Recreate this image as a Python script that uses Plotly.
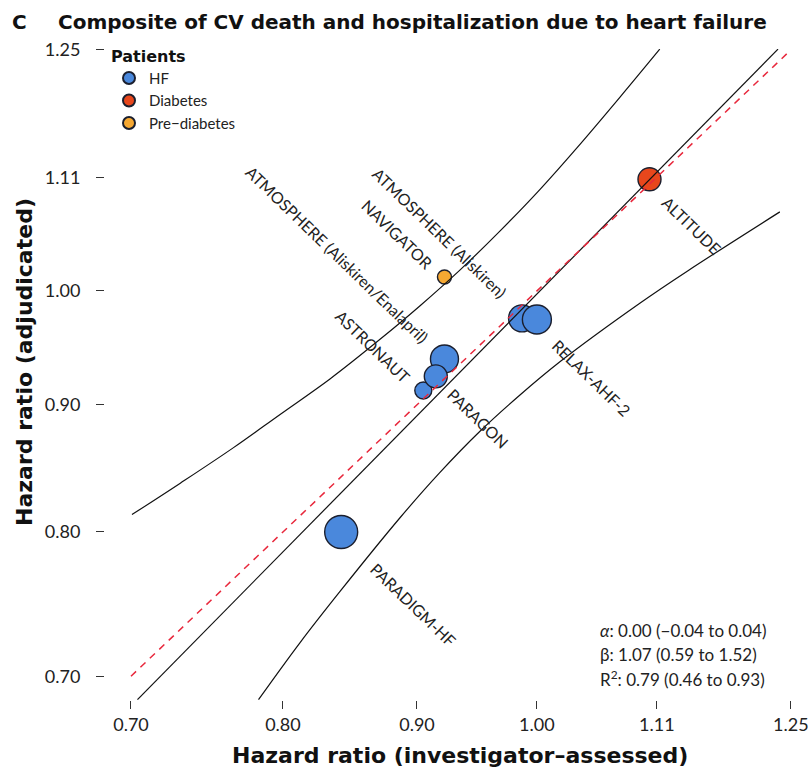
import numpy as np
import plotly.graph_objects as go

FONT = "Lato"
BOLD = "DejaVu Sans"
W, H = 808, 769
L, R, T, B = 105, 0, 49, 69
PLOT_LEFT, PLOT_BOTTOM, PLOT_W, PLOT_H = 105, 700, 703, 651

# trials (investigator-assessed vs adjudicated hazard ratios)
trials = ["PARADIGM-HF", "PARAGON", "ASTRONAUT", "ATMOSPHERE (Aliskiren/Enalapril)",
          "ATMOSPHERE (Aliskiren)", "RELAX-AHF-2", "NAVIGATOR", "ALTITUDE"]
hr_investigator = [0.842, 0.922, 0.905, 0.915, 0.987, 1.000, 0.922, 1.104]
hr_adjudicated = [0.800, 0.939, 0.912, 0.924, 0.975, 0.974, 1.013, 1.109]
population = ["HF", "HF", "HF", "HF", "HF", "HF", "Pre−diabetes", "Diabetes"]
weight = [33, 28, 17, 23, 27, 29, 14, 23]

groups = ["HF", "Diabetes", "Pre−diabetes"]
group_colors = {"HF": "#4a88dc", "Diabetes": "#e8471c", "Pre−diabetes": "#f6a832"}

# regression fit and its confidence band
fit_x = [0.704, 1.236]
fit_y = [0.685, 1.251]
upper_x = [0.7006, 0.731, 0.766, 0.798, 0.834, 0.871, 0.902, 0.935, 0.968, 1.003, 1.036, 1.076, 1.114]
upper_y = [0.813, 0.837, 0.865, 0.892, 0.922, 0.956, 0.986, 1.020, 1.057, 1.099, 1.142, 1.197, 1.251]
lower_x = [0.783, 0.812, 0.841, 0.887, 0.918, 0.951, 0.985, 1.021, 1.095, 1.142, 1.238]
lower_y = [0.685, 0.722, 0.757, 0.811, 0.845, 0.878, 0.908, 0.937, 0.989, 1.019, 1.076]
identity = [0.70, 1.25]

# label positions (centre of each rotated label)
label_x = [0.897, 0.950, 0.866, 0.839, 0.918, 1.049, 0.885, 1.146]
label_y = [0.748, 0.889, 0.950, 1.034, 1.056, 0.923, 1.054, 1.063]

ticks = [0.70, 0.80, 0.90, 1.00, 1 / 0.9, 1.25]
tick_text = ["0.70", "0.80", "0.90", "1.00", "1.11", "1.25"]

stats = ["<i>α</i>: 0.00 (−0.04 to 0.04)", "β: 1.07 (0.59 to 1.52)", "R<sup>2</sup>: 0.79 (0.46 to 0.93)"]

fig = go.Figure()

for g in groups:
    idx = [i for i, p in enumerate(population) if p == g]
    fig.add_trace(go.Scatter(
        x=[hr_investigator[i] for i in idx], y=[hr_adjudicated[i] for i in idx],
        mode="markers", name=g,
        marker=dict(size=[weight[i] for i in idx], color=group_colors[g],
                    line=dict(color="#1b1f2e", width=1.4), opacity=1),
    ))

line_style = dict(color="#111111", width=1.2)
fig.add_trace(go.Scatter(x=upper_x, y=upper_y, mode="lines", line=dict(**line_style, shape="spline"), showlegend=False))
fig.add_trace(go.Scatter(x=lower_x, y=lower_y, mode="lines", line=dict(**line_style, shape="spline"), showlegend=False))
fig.add_trace(go.Scatter(x=fit_x, y=fit_y, mode="lines", line=line_style, showlegend=False))
fig.add_trace(go.Scatter(x=identity, y=identity, mode="lines", showlegend=False,
                         line=dict(color="#e8283c", width=1.5, dash="7px,6px")))

for name, lx, ly in zip(trials, label_x, label_y):
    fig.add_annotation(x=np.log10(lx), y=np.log10(ly), xref="x", yref="y", text=name,
                       showarrow=False, textangle=44, font=dict(family=FONT, size=16, color="#222"))


def px(x):
    return (x - PLOT_LEFT) / PLOT_W


def py(y):
    return (PLOT_BOTTOM - y) / PLOT_H


for i, s in enumerate(stats):
    fig.add_annotation(x=px(598), y=py(630 + 24 * i), xref="paper", yref="paper", text=s,
                       xanchor="left", yanchor="middle", showarrow=False,
                       font=dict(family=FONT, size=17, color="#222"))

fig.add_annotation(x=px(19), y=py(22), xref="paper", yref="paper", text="<b>C</b>",
                   showarrow=False, xanchor="center", yanchor="middle",
                   font=dict(family=BOLD, size=20, color="#111"))
fig.add_annotation(x=px(56), y=py(22), xref="paper", yref="paper",
                   text="<b>Composite of CV death and hospitalization due to heart failure</b>",
                   showarrow=False, xanchor="left", yanchor="middle",
                   font=dict(family=BOLD, size=20, color="#111"))
fig.add_annotation(x=px(460), y=py(755), xref="paper", yref="paper",
                   text="<b>Hazard ratio (investigator–assessed)</b>",
                   showarrow=False, xanchor="center", yanchor="middle",
                   font=dict(family=BOLD, size=22, color="#111"))
fig.add_annotation(x=px(25), y=py(362), xref="paper", yref="paper",
                   text="<b>Hazard ratio (adjudicated)</b>", textangle=-90,
                   showarrow=False, xanchor="center", yanchor="middle",
                   font=dict(family=BOLD, size=22, color="#111"))

# R-style axis lines, only between the first and last tick
axis_col = "#333333"
fig.add_shape(type="line", xref="x", yref="paper", x0=np.log10(ticks[0]), x1=np.log10(ticks[-1]),
              y0=0, y1=0, line=dict(color=axis_col, width=1.3))
fig.add_shape(type="line", xref="paper", yref="y", x0=0, x1=0,
              y0=np.log10(ticks[0]), y1=np.log10(ticks[-1]), line=dict(color=axis_col, width=1.3))

axis_common = dict(type="log", tickvals=ticks, ticktext=tick_text, ticks="outside", ticklen=8,
                   tickwidth=1.3, tickcolor=axis_col, showline=False, showgrid=False, zeroline=False,
                   ticklabeloverflow="allow", tickfont=dict(family=FONT, size=18, color="#222"))
fig.update_xaxes(**axis_common, range=[-0.16482, 0.10346], ticklabelstandoff=0)
fig.update_yaxes(**axis_common, range=[-0.16447, 0.09731], ticklabelstandoff=12)

fig.update_layout(
    width=W, height=H, margin=dict(l=L, r=R, t=T, b=B),
    plot_bgcolor="white", paper_bgcolor="white",
    font=dict(family=FONT, color="#222"),
    legend=dict(x=px(109), y=py(41), xanchor="left", yanchor="top",
                title=dict(text="<b>Patients</b>", font=dict(family=BOLD, size=16, color="#111")),
                font=dict(family=FONT, size=15, color="#222"), itemsizing="constant",
                bgcolor="rgba(0,0,0,0)", tracegroupgap=0),
)

# drop the default page margin so the figure fills the window exactly
fig.write_html("out.html", config={"displayModeBar": False},
               post_script="document.body.style.margin='0';document.body.style.overflow='hidden';")
